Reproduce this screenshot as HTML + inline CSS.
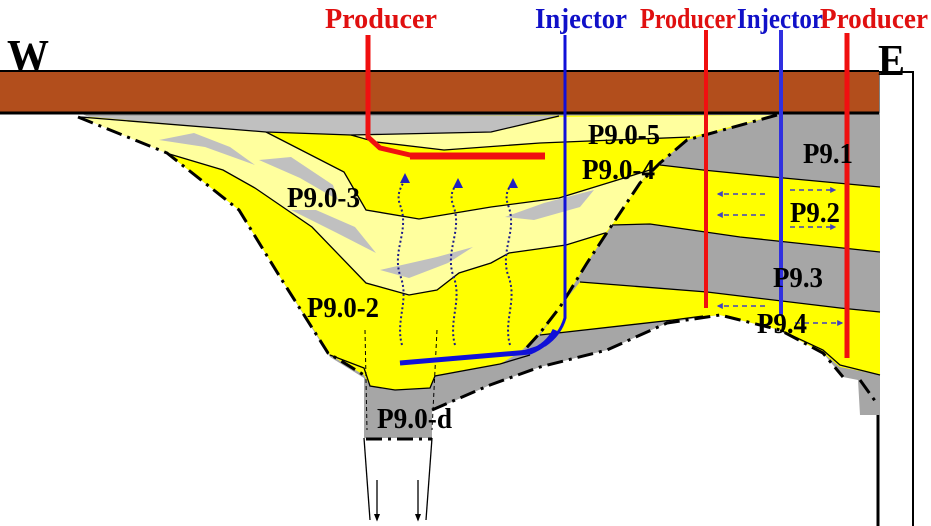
<!DOCTYPE html>
<html><head><meta charset="utf-8"><style>
html,body{margin:0;padding:0;background:#fff;width:931px;height:526px;overflow:hidden}
svg{display:block}
text{font-family:"Liberation Serif",serif;font-weight:bold}
</style></head><body>
<svg width="931" height="526" viewBox="0 0 931 526" xmlns="http://www.w3.org/2000/svg">
<defs>
<marker id="ab" viewBox="0 0 10 10" refX="8" refY="5" markerWidth="5" markerHeight="5" orient="auto"><path d="M0,0L10,5L0,10z" fill="#2020c0"/></marker>
<marker id="ak" viewBox="0 0 10 10" refX="8" refY="5" markerWidth="6" markerHeight="8" orient="auto"><path d="M0,1L10,5L0,9z" fill="#000"/></marker>
<marker id="ad" viewBox="0 0 10 10" refX="8" refY="5" markerWidth="4" markerHeight="4" orient="auto"><path d="M0,0L10,5L0,10z" fill="#4040c0"/></marker>
</defs>
<polyline points="878,72 913,72 913,526" fill="none" stroke="#000" stroke-width="2"/>
<line x1="878" y1="72" x2="878" y2="526" stroke="#000" stroke-width="3"/>
<polygon fill="#a6a6a6" points="80,113 880,113 880,415 860,415 858,380 843,377 823,353 780,330 720,315 703,317 667,323 607,350 540,367 490,385 445,405 432,410 432,438 364,438 364,378 330,357 280,277 239,210 167,153"/>
<polygon fill="#ffff00" points="80,117 777,115 687,140 660,163 640,183 612,225 587,263 560,307 540,333 520,352 500,364 435,376 430,388 395,390 370,386 364,375 330,355 280,277 239,210 167,153"/>
<polygon fill="#ffff9e" points="80,117 266,132 344,172 366,210 419,219 491,207 559,198 650,170 640,183 612,225 605,233 566,245 509,253 491,263 459,273 437,290 409,295 366,283 312,227 255,188 223,170 166,153"/>
<polygon fill="#ffff9e" points="351,135 376,142 444,150 540,143 690,137 777,115 560,117 491,132"/>
<polygon fill="#ffff00" points="660,165 703,170 773,177 880,187 880,252 740,237 650,224 612,225 640,183"/>
<polygon fill="#ffff00" points="580,282 707,292 840,308 880,312 880,375 840,367 823,353 780,330 720,315 673,320 540,335 560,307"/>
<polygon fill="#c0c0c0" points="80,116 266,132 351,135 491,132 559,116"/>
<g fill="#c0c0c0">
<polygon points="159,140 194,133 230,147 255,165 205,147"/>
<polygon points="259,160 291,157 333,185 338,200 300,178"/>
<polygon points="291,210 316,210 355,227 376,253 337,233"/>
<polygon points="380,270 437,257 473,247 448,263 409,278"/>
<polygon points="505,217 544,203 594,190 580,207 534,220"/>
</g>
<rect x="0" y="70" width="879" height="43" fill="#b24e1c"/>
<line x1="0" y1="71" x2="879" y2="71" stroke="#000" stroke-width="2"/>
<line x1="0" y1="113" x2="879" y2="113" stroke="#000" stroke-width="3"/>
<g fill="none" stroke="#000" stroke-width="1.3">
<polyline points="80,117 266,132 351,135 491,132 559,116"/>
<polyline points="266,132 344,172 366,210 419,219 491,207 559,198 650,170"/>
<polyline points="166,153 223,170 255,188 312,227 366,283 409,295 437,290 459,273 491,263 509,253 566,245 605,233"/>
<polyline points="351,135 376,142 444,150 540,143 690,137"/>
<polyline points="660,165 703,170 773,177 880,187"/>
<polyline points="612,225 650,224 740,237 880,252"/>
<polyline points="580,282 707,292 840,308 880,312"/>
<polyline points="540,335 673,320 703,316"/>
<polyline points="780,330 823,350 840,365 880,375"/>
<polyline points="330,355 364,368 370,386 395,390 430,388 435,376 500,364 530,355"/>
<line x1="364" y1="438" x2="370" y2="520"/>
<line x1="432" y1="438" x2="426" y2="520"/>
</g>
<g stroke="#000" stroke-width="1" stroke-dasharray="4 3">
<line x1="365" y1="330" x2="367" y2="430"/>
<line x1="437" y1="330" x2="432" y2="430"/>
</g>
<line x1="377" y1="480" x2="377" y2="520" stroke="#000" stroke-width="1.3" marker-end="url(#ak)"/>
<line x1="418" y1="480" x2="418" y2="520" stroke="#000" stroke-width="1.3" marker-end="url(#ak)"/>
<g fill="none" stroke="#000" stroke-width="3" stroke-dasharray="16 6 3 6">
<polyline points="78,117 167,153 239,210 280,277 328,353 364,375"/>
<polyline points="432,410 490,385 540,367 607,350 667,323 720,315 780,330 823,353 843,377"/>
<polyline points="860,380 878,405"/>
<polyline points="777,115 687,140 660,163 640,183 612,225 587,263 560,307 540,333 520,355"/>
<polyline points="366,439 432,439"/>
</g>
<g fill="none" stroke="#1a1a8a" stroke-width="2" stroke-dasharray="2 2.5">
<path d="M402,345 C395,320 410,300 400,275 C392,250 410,230 400,205 C395,190 405,185 405,175" marker-end="url(#ab)"/>
<path d="M455,345 C448,320 463,300 453,275 C445,250 463,230 453,205 C448,190 458,185 458,180" marker-end="url(#ab)"/>
<path d="M510,345 C503,320 518,300 508,275 C500,250 518,230 508,205 C503,190 513,185 513,180" marker-end="url(#ab)"/>
</g>
<g stroke="#4040c0" stroke-width="1.5" stroke-dasharray="5 4">
<line x1="765" y1="194" x2="718" y2="194" marker-end="url(#ad)"/>
<line x1="765" y1="215" x2="718" y2="215" marker-end="url(#ad)"/>
<line x1="790" y1="190" x2="835" y2="190" marker-end="url(#ad)"/>
<line x1="790" y1="227" x2="835" y2="227" marker-end="url(#ad)"/>
<line x1="765" y1="306" x2="718" y2="306" marker-end="url(#ad)"/>
<line x1="795" y1="323" x2="842" y2="323" marker-end="url(#ad)"/>
</g>
<g fill="none" stroke-linejoin="round">
<path d="M368,35 L368,137 L380,148 L410,155 L545,156" stroke="#f01010" stroke-width="5"/>
<path d="M545,156 L410,156" stroke="#f01010" stroke-width="7"/>
<path d="M565,35 L565,318 Q560,335 545,345 L520,353 L400,363" stroke="#1010d8" stroke-width="3"/>
<path d="M555,330 Q548,345 530,352 L400,363" stroke="#1010d8" stroke-width="5"/>
<line x1="706" y1="30" x2="706" y2="308" stroke="#f01010" stroke-width="4"/>
<line x1="781" y1="30" x2="781" y2="316" stroke="#3030e0" stroke-width="4"/>
<line x1="847" y1="33" x2="847" y2="358" stroke="#f01010" stroke-width="5"/>
</g>
<text x="325" y="28" font-size="29" fill="#e01010" textLength="112" lengthAdjust="spacingAndGlyphs">Producer</text>
<text x="535" y="28" font-size="29" fill="#1010c8" textLength="92" lengthAdjust="spacingAndGlyphs">Injector</text>
<text x="640" y="28" font-size="29" fill="#e01010" textLength="96" lengthAdjust="spacingAndGlyphs">Producer</text>
<text x="737" y="28" font-size="29" fill="#1010c8" textLength="86" lengthAdjust="spacingAndGlyphs">Injector</text>
<text x="820" y="28" font-size="29" fill="#e01010" textLength="108" lengthAdjust="spacingAndGlyphs">Producer</text>
<text x="7" y="71" font-size="46" fill="#000" textLength="42" lengthAdjust="spacingAndGlyphs">W</text>
<text x="878" y="75" font-size="44" fill="#000" textLength="27" lengthAdjust="spacingAndGlyphs">E</text>
<g font-size="28" fill="#000">
<text x="588" y="144" textLength="72" lengthAdjust="spacingAndGlyphs">P9.0-5</text>
<text x="582" y="179" textLength="73" lengthAdjust="spacingAndGlyphs">P9.0-4</text>
<text x="287" y="207" textLength="73" lengthAdjust="spacingAndGlyphs">P9.0-3</text>
<text x="307" y="317" textLength="72" lengthAdjust="spacingAndGlyphs">P9.0-2</text>
<text x="377" y="428" textLength="75" lengthAdjust="spacingAndGlyphs">P9.0-d</text>
<text x="803" y="163" textLength="50" lengthAdjust="spacingAndGlyphs">P9.1</text>
<text x="790" y="222" textLength="50" lengthAdjust="spacingAndGlyphs">P9.2</text>
<text x="773" y="287" textLength="50" lengthAdjust="spacingAndGlyphs">P9.3</text>
<text x="757" y="333" textLength="50" lengthAdjust="spacingAndGlyphs">P9.4</text>
</g>
</svg>
</body></html>
